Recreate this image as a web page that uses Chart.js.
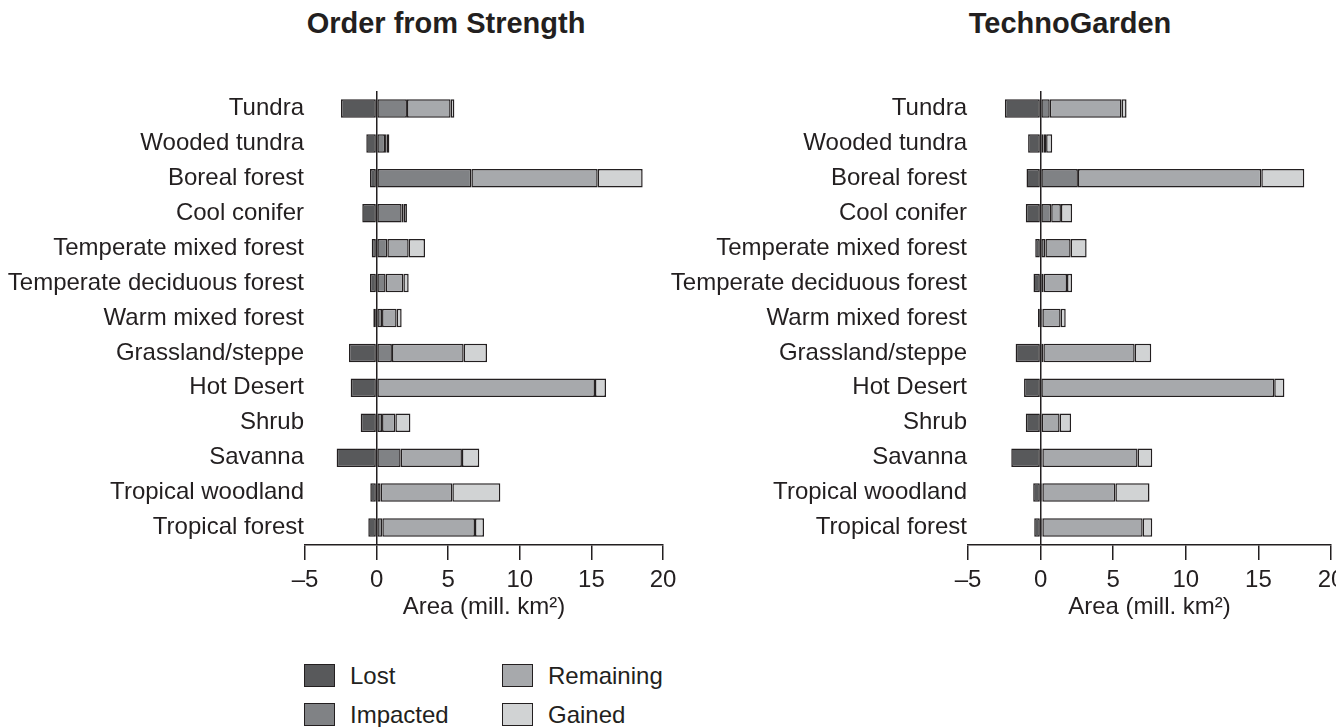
<!DOCTYPE html>
<html>
<head>
<meta charset="utf-8">
<script src="https://cdn.jsdelivr.net/npm/chart.js@4.4.1/dist/chart.umd.min.js"></script>
<style>
  html, body { margin: 0; padding: 0; background: #fff; overflow: hidden; }
  body { width: 1336px; height: 727px; position: relative; font-family: "Liberation Sans", Arial, sans-serif; color: #231f20; }
  .title { position: absolute; top: 7px; font-weight: bold; font-size: 29px; white-space: nowrap; transform: translateX(-50%); }
  canvas { position: absolute; top: 0; }
  #legend { position: absolute; left: 304px; top: 664px; width: 400px; height: 63px; }
  .item { position: absolute; font-size: 24px; line-height: 23px; white-space: nowrap; }
  .box { display: inline-block; width: 29px; height: 21px; border: 1px solid #231f20; vertical-align: top; margin-right: 15px; }
</style>
</head>
<body>
<div class="title" style="left:446px">Order from Strength</div>
<div class="title" style="left:1070px">TechnoGarden</div>
<canvas id="chartOfs" width="690" height="630" style="left:0"></canvas>
<canvas id="chartTg" width="690" height="630" style="left:668px"></canvas>
<div id="legend"></div>
<script>
// ================= DATA =================
const categories = [
  "Tundra", "Wooded tundra", "Boreal forest", "Cool conifer",
  "Temperate mixed forest", "Temperate deciduous forest", "Warm mixed forest",
  "Grassland/steppe", "Hot Desert", "Shrub", "Savanna",
  "Tropical woodland", "Tropical forest",
];

const seriesNames = ["Lost", "Impacted", "Remaining", "Gained"];
const seriesColors = ["#58595b", "#808285", "#a7a9ac", "#d1d3d4"];

// Order from Strength (mill. km2, segment widths)
const ofsLost = [-2.49, -0.72, -0.46, -1.0, -0.34, -0.46, -0.23, -1.93, -1.81, -1.11, -2.79, -0.44, -0.58];
const ofsImpacted = [2.12, 0.59, 6.62, 1.75, 0.75, 0.63, 0.38, 1.07, 0, 0.38, 1.68, 0.28, 0.4];
const ofsRemaining = [3.05, 0.11, 8.82, 0.14, 1.49, 1.24, 1.02, 5.01, 15.25, 0.93, 4.28, 5.01, 6.47];
const ofsGained = [0.26, 0.19, 3.14, 0.23, 1.14, 0.37, 0.35, 1.63, 0.77, 1.05, 1.21, 3.35, 0.63];

// TechnoGarden
const tgLost = [-2.46, -0.86, -0.97, -1.02, -0.37, -0.49, -0.18, -1.72, -1.14, -1.02, -2.02, -0.51, -0.44];
const tgImpacted = [0.63, 0.21, 2.57, 0.73, 0.33, 0.21, 0.12, 0.19, 0, 0.07, 0.12, 0.12, 0.12];
const tgRemaining = [4.94, 0.17, 12.63, 0.67, 1.74, 1.61, 1.26, 6.29, 16.09, 1.24, 6.56, 5.03, 6.91];
const tgGained = [0.35, 0.42, 2.96, 0.77, 1.1, 0.35, 0.35, 1.14, 0.7, 0.79, 1.01, 2.35, 0.66];

const xTicks = [-5, 0, 5, 10, 15, 20];
const axisTitle = "Area (mill. km²)";

// ================= CHART =================
Chart.defaults.font.family = '"Liberation Sans", Arial, sans-serif';
Chart.defaults.color = "#231f20";

const ink = "#231f20";

function makeChart(id, series, labelWidth) {
  const datasets = series.map((data, i) => ({
    label: seriesNames[i],
    data: data,
    backgroundColor: seriesColors[i],
    borderColor: ink,
    borderWidth: 1.5,
    borderSkipped: false,
    barPercentage: 0.53,
    categoryPercentage: 1,
  }));

  return new Chart(document.getElementById(id), {
    type: "bar",
    data: { labels: categories, datasets: datasets },
    options: {
      indexAxis: "y",
      responsive: false,
      devicePixelRatio: 1,
      animation: false,
      layout: { padding: { top: 91, right: 27, bottom: 0, left: 0 } },
      plugins: { legend: { display: false }, tooltip: { enabled: false } },
      scales: {
        x: {
          stacked: true,
          min: -5,
          max: 20,
          afterBuildTicks: (s) => { s.ticks = xTicks.map((v) => ({ value: v })); },
          afterFit: (s) => { s.height = 85; },
          grid: {
            color: (c) => (c.tick && c.tick.value === 0 ? ink : "transparent"),
            lineWidth: 1.5,
            tickColor: ink,
            tickLength: 15,
            tickWidth: 1.5,
          },
          border: { display: true, color: ink, width: 1.5 },
          ticks: {
            padding: 6,
            font: { size: 24 },
            color: ink,
            maxRotation: 0,
            callback: (v) => (v < 0 ? "\u2013" + Math.abs(v) : v),
          },
          title: {
            display: true,
            text: axisTitle,
            color: ink,
            font: { size: 24 },
            padding: { top: 0, bottom: 8 },
          },
        },
        y: {
          stacked: true,
          afterFit: (s) => { s.width = labelWidth; },
          grid: { display: false, drawTicks: false },
          border: { display: false },
          ticks: { padding: 1, font: { size: 24 }, color: ink, autoSkip: false },
        },
      },
    },
  });
}

makeChart("chartOfs", [ofsLost, ofsImpacted, ofsRemaining, ofsGained], 305);
makeChart("chartTg", [tgLost, tgImpacted, tgRemaining, tgGained], 300);

// ================= LEGEND =================
const legendPos = [
  { left: 0, top: 0 },
  { left: 0, top: 39 },
  { left: 198, top: 0 },
  { left: 198, top: 39 },
];
const legendEl = document.getElementById("legend");
seriesNames.forEach((name, i) => {
  const item = document.createElement("div");
  item.className = "item";
  item.style.left = legendPos[i].left + "px";
  item.style.top = legendPos[i].top + "px";
  item.innerHTML = `<span class="box" style="background:${seriesColors[i]}"></span>${name}`;
  legendEl.appendChild(item);
});
</script>
</body>
</html>
